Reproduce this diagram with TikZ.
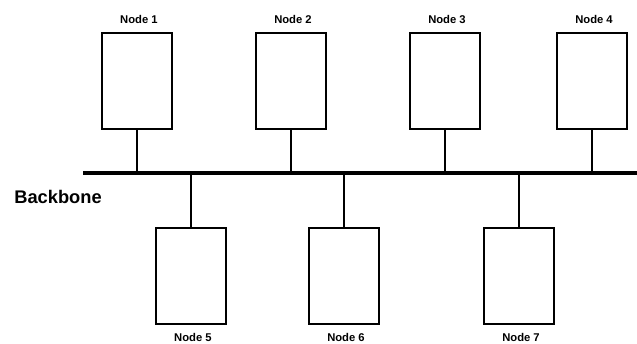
\documentclass[tikz,border=0pt]{standalone}
\usepackage{fontspec}
\setmainfont{Liberation Sans}
\usepackage{tikz}

\begin{document}
\begin{tikzpicture}[x=0.025cm,y=-0.025cm,
		host/.style={draw,line width=1.4pt,minimum width=1.77cm,minimum height=2.42cm,inner sep=0pt},
		lbl/.style={font=\bfseries\fontsize{8}{9}\selectfont,inner sep=0pt},
		bus/.style={line width=2.9pt},
		tap/.style={line width=1.4pt}]
			\useasboundingbox (0,0) rectangle (637,343);
			\node[host] (n1) at (137,81) {};
			\node[host] (n2) at (291,81) {};
			\node[host] (n3) at (445,81) {};
			\node[host] (n4) at (592,81) {};
			\node[host] (n5) at (191,276) {};
			\node[host] (n6) at (344,276) {};
			\node[host] (n7) at (519,276) {};
			\node[lbl] (l1) at (139,19) {Node 1};
			\node[lbl] (l2) at (293,19) {Node 2};
			\node[lbl] (l3) at (447,19) {Node 3};
			\node[lbl] (l4) at (594,19) {Node 4};
			\node[lbl] (l5) at (193,337) {Node 5};
			\node[lbl] (l6) at (346,337) {Node 6};
			\node[lbl] (l7) at (521,337) {Node 7};
			\coordinate (b0) at (83,173);
			\coordinate (b1) at (637,173);
			\draw[bus] (b0)--(b1);
			\node[font=\bfseries\fontsize{13}{15}\selectfont,inner sep=0pt] (bb) at (58,197) {Backbone};
			\draw[tap] (n1.south)--(n1.south|-b0);
			\draw[tap] (n2.south)--(n2.south|-b0);
			\draw[tap] (n3.south)--(n3.south|-b0);
			\draw[tap] (n4.south)--(n4.south|-b0);
			\draw[tap] (n5.north)--(n5.north|-b0);
			\draw[tap] (n6.north)--(n6.north|-b0);
			\draw[tap] (n7.north)--(n7.north|-b0);
		\end{tikzpicture}
\end{document}
